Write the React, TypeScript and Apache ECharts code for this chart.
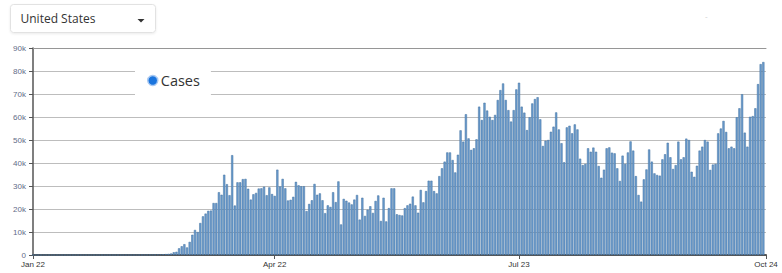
import { useEffect, useRef } from "react";
import * as echarts from "echarts";

// Daily new cases, Jan 22 .. Oct 24 (277 days)
const startYear = 2020;
const startMonth = 0; // January
const startDay = 22;
const dayCount = 277;

const tickDays = [0, 91, 183, 276];
const tickLabels = ["Jan 22", "Apr 22", "Jul 23", "Oct 24"];

const yMax = 90000;
const yStep = 10000;

const seriesName = "Cases";
const countryName = "United States";

const casesJanFeb = [
  0, 0, 0, 0, 1, 0, 0, 0, 0, 1, 1, 0, 0, 0, 0, 0, 0, 0, 0, 0,
  0, 0, 0, 0, 0, 0, 0, 0, 0, 0, 0, 0, 0, 0, 0, 1, 0, 3, 2,
];
const casesMar = [
  20, 25, 30, 50, 70, 90, 120, 100, 160, 240, 300, 400, 500, 650, 1200, 1400,
  2900, 3800, 4700, 3300, 5700, 8800, 10900, 10000, 13900, 16800, 18000, 19200,
  19300, 22600, 22600,
];
const casesApr = [
  27300, 26200, 34900, 30800, 26000, 43400, 21500, 31600, 31600, 33000, 33100,
  28800, 24100, 26400, 27000, 28900, 29000, 29700, 26000, 29400, 26500, 25700,
  37100, 29800, 33100, 29000, 23700, 24000, 25300, 31800,
];
const casesMay = [
  30300, 29900, 29900, 19100, 22200, 23800, 30900, 26200, 26800, 23800, 18200,
  21600, 20900, 27300, 23000, 32000, 13300, 24400, 23600, 22800, 22000, 24100,
  26100, 15400, 24900, 17000, 19700, 21200, 18300, 23500, 25900,
];
const casesJun = [
  14800, 24900, 14600, 20400, 29000, 29000, 17700, 17400, 17200, 20400, 21600,
  22300, 25400, 21600, 18400, 28300, 22900, 27800, 32300, 32300, 27800, 26800,
  34300, 37700, 40600, 44600, 44600, 41300, 35900, 43600,
];
const casesJul = [
  54200, 49300, 61200, 50700, 45700, 46400, 50300, 64500, 58700, 66200, 62800,
  60100, 58700, 60900, 67400, 71700, 74600, 67400, 63000, 58000, 63000, 72000,
  74900, 64500, 61900, 54300, 59900, 65900, 67800, 68600, 59000,
];
const casesAug = [
  47400, 49700, 50000, 53600, 55800, 62000, 54600, 48600, 40300, 55500, 56200,
  52900, 56800, 54600, 41900, 39100, 39600, 46400, 44900, 46700, 44900, 38700,
  33600, 37100, 46400, 46800, 44500, 44200, 37700, 32200, 43200,
];
const casesSep = [
  39600, 44600, 49400, 45400, 34300, 26100, 23200, 32900, 37200, 45900, 40600,
  35500, 34800, 34500, 41600, 43800, 48800, 42500, 37400, 39100, 49300, 41600,
  42500, 50600, 50000, 36200, 34000, 38800, 45400, 47100,
];
const casesOct = [
  50000, 49300, 37000, 39300, 39600, 52900, 55000, 58300, 53500, 46400, 47100,
  46400, 59900, 63800, 69900, 53200, 47100, 60100, 60400, 63800, 74300, 83000,
  83900, null,
];

const cases = [
  ...casesJanFeb,
  ...casesMar,
  ...casesApr,
  ...casesMay,
  ...casesJun,
  ...casesJul,
  ...casesAug,
  ...casesSep,
  ...casesOct,
];

const monthNames = ["Jan", "Feb", "Mar", "Apr", "May", "Jun", "Jul", "Aug", "Sep", "Oct", "Nov", "Dec"];

function buildCategories(): string[] {
  const out: string[] = [];
  for (let i = 0; i < dayCount; i++) {
    const d = new Date(Date.UTC(startYear, startMonth, startDay + i));
    out.push(monthNames[d.getUTCMonth()] + " " + d.getUTCDate());
  }
  return out;
}

export default function App() {
  const ref = useRef<HTMLDivElement | null>(null);

  useEffect(() => {
    if (!ref.current) return;
    const chart = echarts.init(ref.current, null, { renderer: "svg" });
    const categories = buildCategories();
    const showIdx = (idx: number) => tickDays.indexOf(idx) >= 0;

    chart.setOption({
      animation: false,
      backgroundColor: "#ffffff",
      grid: {
        left: 33,
        right: 16,
        top: 48,
        bottom: 18,
        outerBoundsMode: "none",
      },
      legend: {
        show: true,
        left: 135,
        top: 66,
        padding: [7, 11, 7, 12],
        backgroundColor: "#ffffff",
        selectedMode: false,
        icon: "circle",
        itemWidth: 10,
        itemHeight: 10,
        data: [seriesName],
        itemStyle: {
          color: "#1b75de",
          borderColor: "#a9c9f2",
          borderWidth: 1.5,
        },
        textStyle: {
          fontFamily: "Open Sans",
          fontSize: 14.5,
          color: "#333333",
          padding: [0, 0, 0, -2],
        },
      },
      xAxis: [
        {
          type: "category",
          data: categories,
          boundaryGap: false,
          axisLine: { show: true, lineStyle: { color: "#555555", width: 2 } },
          axisTick: {
            show: true,
            interval: (idx: number) => showIdx(idx),
            length: 4,
            lineStyle: { color: "#555555", width: 1 },
          },
          axisLabel: {
            interval: (idx: number) => showIdx(idx),
            showMinLabel: true,
            showMaxLabel: true,
            formatter: (_v: string, idx: number) => {
              const k = tickDays.indexOf(idx);
              return k >= 0 ? tickLabels[k] : "";
            },
            margin: 5,
            fontFamily: "Liberation Sans",
            fontSize: 8,
            color: "#333333",
          },
          splitLine: { show: false },
        },
        {
          type: "category",
          data: categories,
          boundaryGap: false,
          position: "top",
          axisLine: { show: true, lineStyle: { color: "#969696", width: 1 } },
          axisTick: { show: false },
          axisLabel: { show: false },
          splitLine: { show: false },
        },
      ],
      yAxis: {
        type: "value",
        min: 0,
        max: yMax,
        interval: yStep,
        axisLine: { show: true, lineStyle: { color: "#555555", width: 1.5 } },
        axisTick: { show: true, length: 4, lineStyle: { color: "#555555", width: 1 } },
        axisLabel: {
          margin: 7,
          fontFamily: "Liberation Sans",
          fontSize: 8,
          color: "#5f6b87",
          formatter: (v: number) => (v === 0 ? "0" : v / 1000 + "k"),
        },
        splitLine: { show: true, lineStyle: { color: "#bdbdbd", width: 1 } },
      },
      series: [
        {
          name: seriesName,
          type: "bar",
          data: cases,
          xAxisIndex: 0,
          barCategoryGap: "18%",
          itemStyle: {
            color: "#6a9bce",
            borderColor: "#41719f",
            borderWidth: 0.5,
          },
        },
      ],
      graphic: [
        {
          type: "group",
          left: 10,
          top: 4,
          children: [
            {
              type: "rect",
              shape: { x: 0, y: 0, width: 145, height: 28, r: 3 },
              style: {
                fill: "#ffffff",
                stroke: "#e2e2e2",
                lineWidth: 1,
                shadowBlur: 2,
                shadowColor: "rgba(0,0,0,0.08)",
                shadowOffsetY: 1,
              },
            },
            {
              type: "text",
              x: 10,
              y: 14,
              style: {
                text: countryName,
                fontFamily: "Open Sans",
                fontSize: 12,
                fill: "#333333",
                verticalAlign: "middle",
              },
            },
            {
              type: "polygon",
              shape: { points: [[127, 14.5], [134, 14.5], [130.5, 18]] },
              style: { fill: "#333333" },
            },
          ],
        },
        {
          type: "text",
          left: 705,
          top: 12,
          style: { text: "-", fontSize: 8, fill: "#d0d0d0", fontFamily: "Liberation Sans" },
        },
      ],
    });

    return () => {
      chart.dispose();
    };
  }, []);

  return (
    <div
      ref={ref}
      style={{ position: "absolute", left: 0, top: 0, width: 782, height: 273 }}
    />
  );
}
